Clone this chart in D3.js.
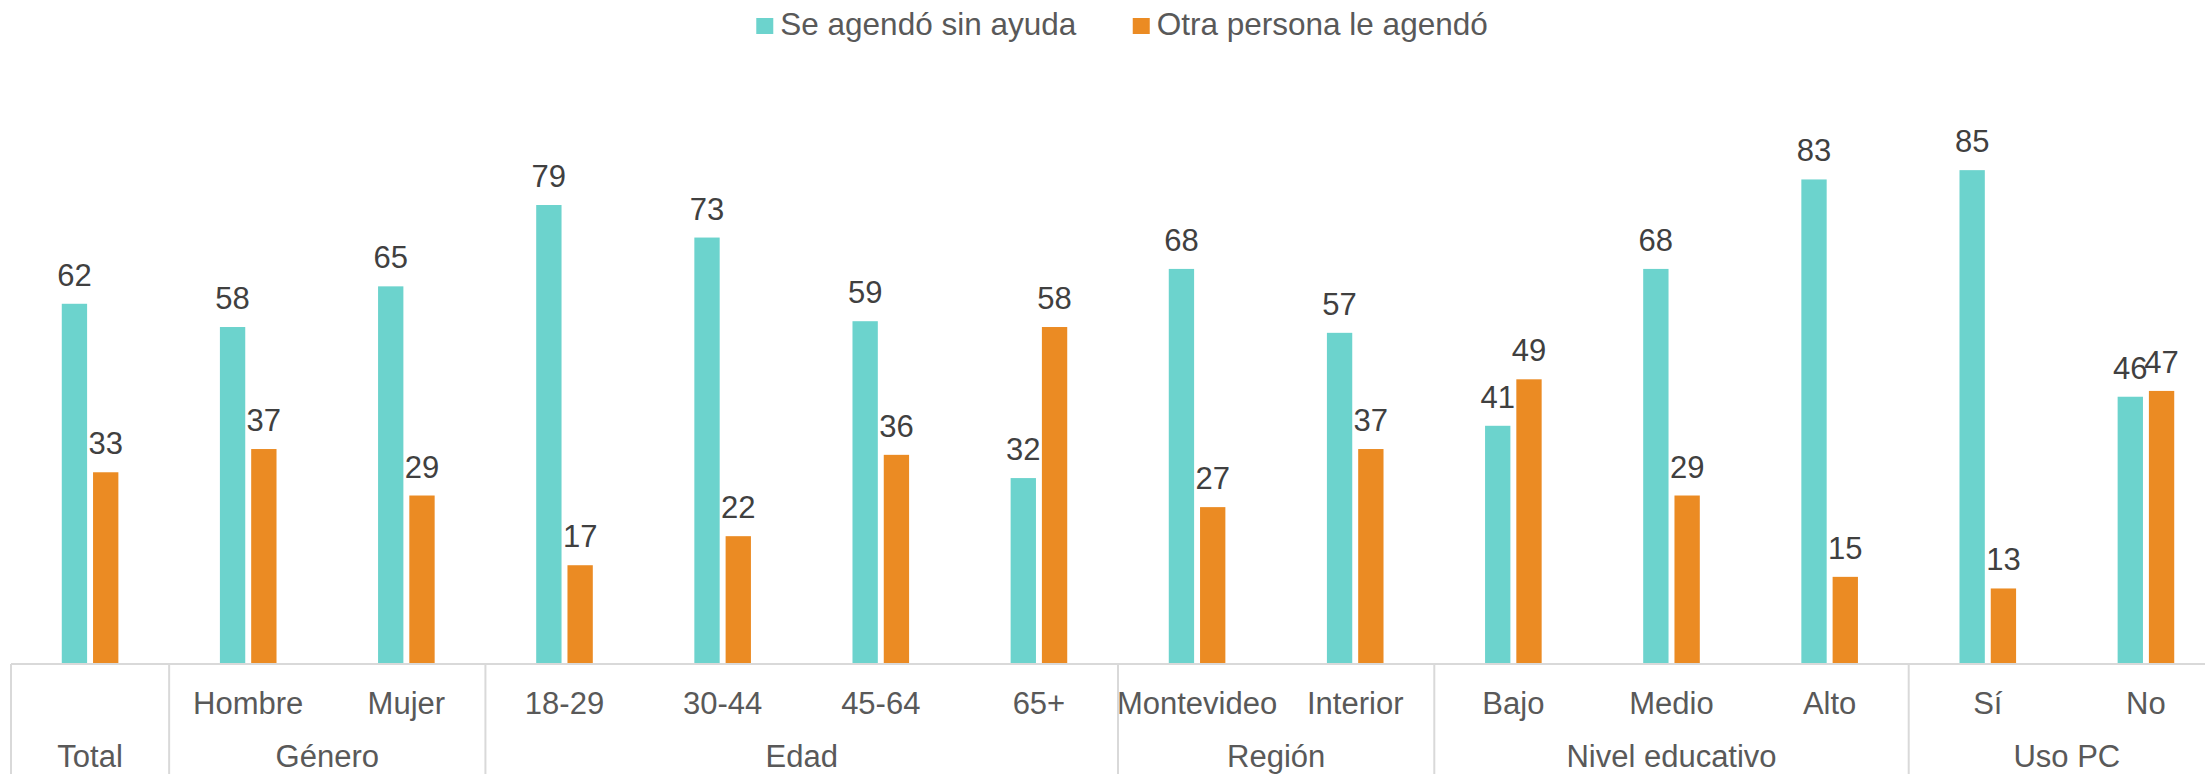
<!doctype html>
<html>
  <head>
    <meta charset="utf-8">
    <script src="https://cdn.jsdelivr.net/npm/d3@7/dist/d3.min.js"></script>
    <style>
      body, html {
        margin: 0;
        background: #fff;
      }
      svg {
        display: block;
        font-family: "Liberation Sans", Arial, sans-serif;
      }
      text.axis-label {
        fill: #595959;
        font-size: 31px;
      }
      text.value {
        fill: #404040;
        font-size: 31px;
      }
      text.legend {
        fill: #595959;
        font-size: 31.5px;
      }
      line.grid {
        stroke: #D9D9D9;
        stroke-width: 2px;
      }
    </style>
  </head>
  <body>
    <svg width="2205" height="774"></svg>
    <script>

      var series = ["Se agendó sin ayuda", "Otra persona le agendó"];
      var colors = ["#6CD3CD", "#EB8B23"];

      var categories = ["", "Hombre", "Mujer", "18-29", "30-44", "45-64", "65+",
        "Montevideo", "Interior", "Bajo", "Medio", "Alto", "Sí", "No"];
      var groups = ["Total", "Género", "Género", "Edad", "Edad", "Edad", "Edad",
        "Región", "Región", "Nivel educativo", "Nivel educativo", "Nivel educativo",
        "Uso PC", "Uso PC"];

      // bar heights (labels are the rounded values)
      var sinAyuda = [62, 58, 65, 79, 73.4, 59, 32, 68, 57, 41, 68, 83.4, 85, 46];
      var otraPersona = [33, 37, 29, 17, 22, 36, 58, 27, 37, 49, 29, 15, 13, 47];

      var values = [sinAyuda, otraPersona];

      var svg = d3.select("svg");
      var baseline = 664;

      var x0 = d3.scaleBand()
        .domain(d3.range(categories.length))
        .range([11, 2225])
        .padding(0);

      var pairWidth = 56.6;
      var x1 = d3.scaleBand()
        .domain(d3.range(series.length))
        .range([0, pairWidth])
        .paddingInner(0.19);

      var y = d3.scaleLinear()
        .domain([0, 100])
        .range([baseline, baseline - 581]);

      // bars
      series.forEach((s, si) => {
        var g = svg.append("g");
        g.selectAll("rect")
          .data(values[si])
          .enter().append("rect")
          .attr("x", (d, i) => x0(i) + (x0.bandwidth() - pairWidth) / 2 + x1(si))
          .attr("y", d => y(d))
          .attr("width", x1.bandwidth())
          .attr("height", d => baseline - y(d))
          .attr("fill", colors[si]);

        g.selectAll("text")
          .data(values[si])
          .enter().append("text")
          .attr("class", "value")
          .attr("text-anchor", "middle")
          .attr("x", (d, i) => x0(i) + (x0.bandwidth() - pairWidth) / 2 + x1(si) + x1.bandwidth() / 2)
          .attr("y", d => y(d) - 18)
          .text(d => Math.round(d));
      });

      // category axis (two levels)
      svg.append("line").attr("class", "grid")
        .attr("x1", 11).attr("x2", 2225)
        .attr("y1", baseline).attr("y2", baseline);

      svg.append("g").selectAll("text")
        .data(categories)
        .enter().append("text")
        .attr("class", "axis-label")
        .attr("text-anchor", "middle")
        .attr("x", (d, i) => x0(i) + x0.bandwidth() / 2)
        .attr("y", 714)
        .text(d => d);

      var spans = [];
      groups.forEach((gname, i) => {
        var last = spans[spans.length - 1];
        if (last && last.name === gname) last.end = i;
        else spans.push({name: gname, start: i, end: i});
      });

      svg.append("g").selectAll("text")
        .data(spans)
        .enter().append("text")
        .attr("class", "axis-label")
        .attr("text-anchor", "middle")
        .attr("x", d => (x0(d.start) + x0(d.end) + x0.bandwidth()) / 2)
        .attr("y", 767)
        .text(d => d.name);

      var edges = [x0(0)].concat(spans.map(d => x0(d.end) + x0.bandwidth()));
      svg.append("g").selectAll("line")
        .data(edges)
        .enter().append("line")
        .attr("class", "grid")
        .attr("x1", d => d).attr("x2", d => d)
        .attr("y1", baseline).attr("y2", 774);

      // legend
      var legend = svg.append("g");
      var items = legend.selectAll("g")
        .data(series)
        .enter().append("g");
      items.append("rect")
        .attr("width", 17).attr("height", 16)
        .attr("y", 18)
        .attr("fill", (d, i) => colors[i]);
      items.append("text")
        .attr("class", "legend")
        .attr("x", 24)
        .attr("y", 35)
        .text(d => d);

      var widths = items.nodes().map(n => n.getBBox().width);
      var gapItems = 56;
      var total = d3.sum(widths) + gapItems * (widths.length - 1);
      var xPos = 1122 - total / 2;
      items.attr("transform", (d, i) => {
        var t = "translate(" + xPos + ",0)";
        xPos += widths[i] + gapItems;
        return t;
      });

    </script>
  </body>
</html>
